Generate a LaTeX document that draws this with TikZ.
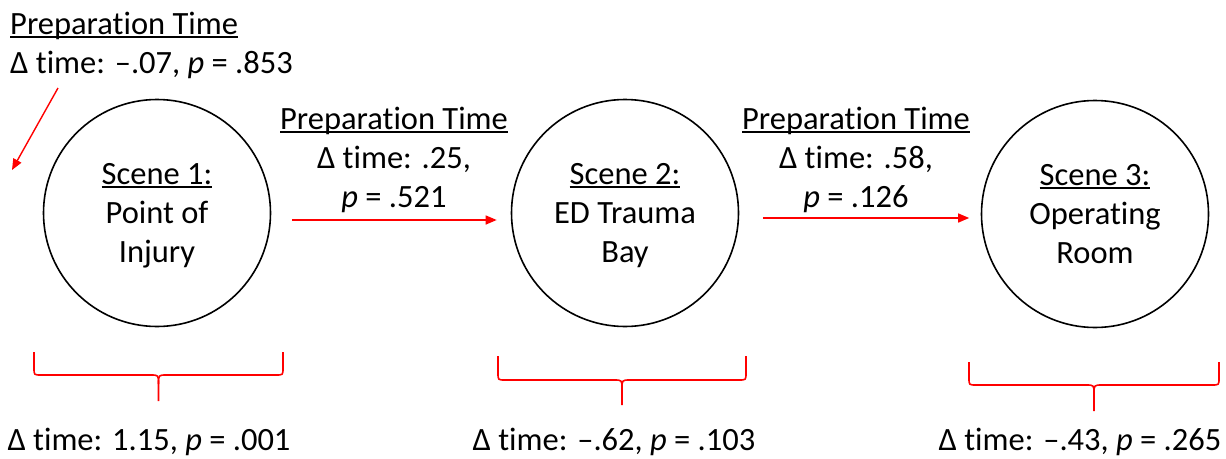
\documentclass[tikz,border=0pt]{standalone}
\usepackage{fontspec}
\setmainfont[Ligatures=NoCommon]{Carlito}
\usetikzlibrary{arrows.meta}
\newcommand{\uln}[1]{\setbox0\hbox{#1}\rlap{\rule[-3pt]{\wd0}{1.8pt}}\box0}
\begin{document}
\begin{tikzpicture}[x=1pt,y=-1pt,
  every node/.style={font=\fontsize{32.5}{39}\selectfont, inner sep=0pt},
  scene/.style={draw=black, line width=1.6pt, circle, minimum size=227pt, align=center},
  lbl/.style={align=center},
  redarrow/.style={draw=red, line width=1.4pt, -{Triangle[length=11pt,width=9pt]}},
  bracepath/.style={draw=red, line width=1.6pt, line join=round}
]
\useasboundingbox (0,0) rectangle (1226,458);

% circles
\node[scene, text depth=-3pt] (s1) at (157,213) {\uln{Scene 1:}\\Point of\\Injury};
\node[scene, text depth=-3pt] (s2) at (625,213) {\uln{Scene 2:}\\ED Trauma\\Bay};
\node[scene, text depth=-3pt] (s3) at (1095,214) {\uln{Scene 3:}\\Operating\\Room};

% top-left label
\node[lbl, align=left, anchor=north west] (t0) at (10,12) {\uln{Preparation Time}\\Δ time: \textendash.07, \textit{p} = .853};
\coordinate (a0s) at (58,88);
\coordinate (a0e) at (12,170);
\draw[redarrow] (a0s) -- (a0e);

% middle labels
\node[lbl, anchor=north] (t1) at (394,107) {\uln{Preparation Time}\\Δ time: .25,\\\textit{p} = .521};
\node[lbl, anchor=north] (t2) at (856,107) {\uln{Preparation Time}\\Δ time: .58,\\\textit{p} = .126};

\draw[redarrow] ([xshift=21pt,yshift=-7pt]s1.east) -- ([xshift=-14pt,yshift=-7pt]s2.west);
\draw[redarrow] ([xshift=23.5pt,yshift=-5pt]s2.east) -- ([xshift=-11.5pt,yshift=-4pt]s3.west);

% braces
\newcommand{\redbrace}[5]{% left x, right x, top y, line y, bottom y
  \draw[bracepath] (#1,#3) -- (#1,#4-7) .. controls (#1,#4) and (#1,#4) .. (#1+7,#4)
    -- ({(#1+#2)/2-8},#4) .. controls ({(#1+#2)/2},#4) and ({(#1+#2)/2},#4) .. ({(#1+#2)/2},#4+9)
    -- ({(#1+#2)/2},#5);
  \draw[bracepath] (#2,#3) -- (#2,#4-7) .. controls (#2,#4) and (#2,#4) .. (#2-7,#4)
    -- ({(#1+#2)/2+8},#4) .. controls ({(#1+#2)/2},#4) and ({(#1+#2)/2},#4) .. ({(#1+#2)/2},#4+9);
}
\redbrace{34}{283}{352}{375}{401}
\redbrace{498}{746}{356}{380}{405}
\redbrace{969}{1219}{362}{385}{411}

% bottom labels
\node[lbl, anchor=base] (b1) at (149,450) {Δ time: 1.15, \textit{p} = .001};
\node[lbl, anchor=base] (b2) at (614,450) {Δ time: \textendash.62, \textit{p} = .103};
\node[lbl, anchor=base] (b3) at (1080,450) {Δ time: \textendash.43, \textit{p} = .265};
\end{tikzpicture}
\end{document}
